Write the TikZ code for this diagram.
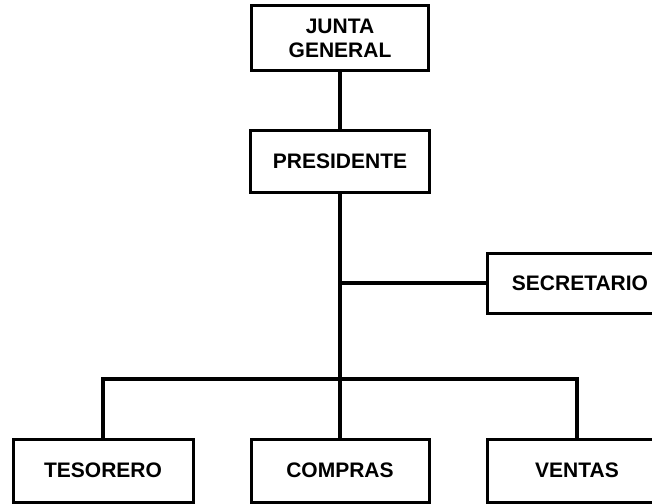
\documentclass[tikz,border=0pt]{standalone}
\usepackage{fontspec}
\setmainfont{Liberation Sans}
\begin{document}
\begin{tikzpicture}[x=1pt,y=-1pt,
  orgbox/.style={draw=black, line width=3pt, rectangle, inner sep=0pt,
    font=\bfseries\fontsize{21}{24}\selectfont, align=center},
  link/.style={draw=black, line width=4pt}]
\useasboundingbox (0,0) rectangle (652,503);
\clip (0,0) rectangle (652,503);
\fill[white] (0,0) rectangle (652,503);
\node[orgbox, minimum width=177pt, minimum height=64pt] (junta) at (340,38) {JUNTA\\GENERAL};
\node[orgbox, minimum width=179pt, minimum height=62pt] (pres) at (340,161) {PRESIDENTE};
\node[orgbox, minimum width=186pt, minimum height=60pt] (secr) at (580,283) {SECRETARIO};
\node[orgbox, minimum width=180pt, minimum height=63pt] (tes) at (103,470.5) {TESORERO};
\node[orgbox, minimum width=178pt, minimum height=63pt] (comp) at (340,470.5) {COMPRAS};
\node[orgbox, minimum width=180pt, minimum height=63pt] (vent) at (577,470.5) {VENTAS};
\coordinate (bus) at (340,379);
\draw[link] (junta.south) -- (pres.north);
\draw[link] (pres.south) -- (comp.north);
\draw[link] (secr.west) -- (secr.west -| pres.south);
\draw[link] (tes.north) -- (tes.north |- bus) -- (vent.north |- bus) -- (vent.north);
\end{tikzpicture}
\end{document}
